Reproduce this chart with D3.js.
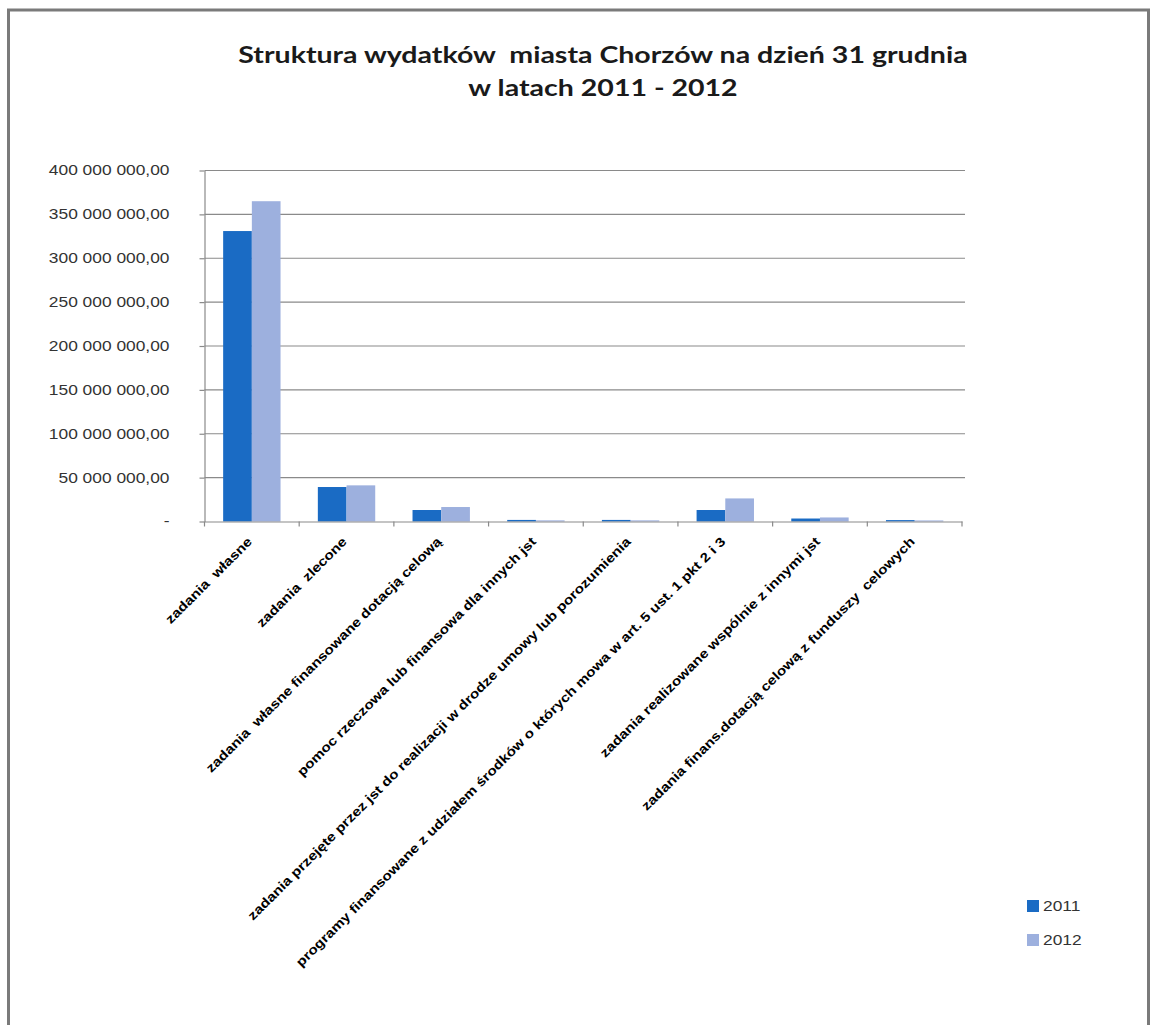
<!DOCTYPE html>
<html>
<head>
<meta charset="utf-8">
<script src="https://cdn.jsdelivr.net/npm/d3@7"></script>
<style>
  html, body { margin: 0; padding: 0; background: #fff; }
  svg { display: block; }
  text { white-space: pre; }
</style>
</head>
<body>
<svg id="chart" width="1153" height="1025"></svg>
<script>
// ---------- DATA ----------
const titleLines = ["Struktura wydatków  miasta Chorzów na dzień 31 grudnia", "w latach 2011 - 2012"];
const categories = [
  "zadania  własne",
  "zadania  zlecone",
  "zadania  własne finansowane dotacją celową",
  "pomoc rzeczowa lub finansowa dla innych jst",
  "zadania przejęte przez jst do realizacji w drodze umowy lub porozumienia",
  "programy finansowane z udziałem środków o których mowa w art. 5 ust. 1 pkt 2 i 3",
  "zadania realizowane wspólnie z innymi jst",
  "zadania finans.dotacją celową z funduszy  celowych"
];
const seriesNames = ["2011", "2012"];
const values2011 = [331000000, 39300000, 13100000, 1800000, 1800000, 13100000, 3400000, 1600000];
const values2012 = [365000000, 41200000, 16500000, 1300000, 1300000, 26300000, 4600000, 1200000];
const yTickValues = [0, 50000000, 100000000, 150000000, 200000000, 250000000, 300000000, 350000000, 400000000];
const yTickLabels = ["-", "50 000 000,00", "100 000 000,00", "150 000 000,00", "200 000 000,00",
                     "250 000 000,00", "300 000 000,00", "350 000 000,00", "400 000 000,00"];

// ---------- STYLE / LAYOUT ----------
const colors = ["#1A6BC4", "#9DB0DE"];
const SX = 1.24; // horizontal stretch of the reference's text
const plot = { left: 204.5, right: 962, top: 170.5, bottom: 521.5 };

const svg = d3.select("#chart");

function stretch(sel, f) {
  sel.each(function () {
    const w = this.getComputedTextLength();
    d3.select(this).attr("textLength", w * f).attr("lengthAdjust", "spacingAndGlyphs");
  });
}

// outer frame
svg.append("rect")
  .attr("x", 8.5).attr("y", 10).attr("width", 1140).attr("height", 1040)
  .attr("fill", "none").attr("stroke", "#7a7a7a").attr("stroke-width", 3);

// title
svg.append("g").selectAll("text").data(titleLines).join("text")
  .attr("x", 603).attr("y", (d, i) => 63 + i * 33)
  .attr("text-anchor", "middle")
  .attr("font-family", "Lato, 'Open Sans', sans-serif")
  .attr("font-weight", "bold")
  .attr("font-size", 23)
  .attr("fill", "#1a1a1a")
  .text(d => d)
  .call(stretch, SX);

// scales
const x0 = d3.scaleBand().domain(categories).range([plot.left, plot.right]).padding(0);
const x1 = d3.scaleBand().domain(seriesNames).range([0, x0.bandwidth()]).paddingInner(0).paddingOuter(0.65);
const y = d3.scaleLinear().domain([0, 400000000]).range([plot.bottom, plot.top]);

// gridlines
svg.append("g").selectAll("line").data(yTickValues.slice(1)).join("line")
  .attr("x1", plot.left).attr("x2", plot.right + 3)
  .attr("y1", d => y(d)).attr("y2", d => y(d))
  .attr("stroke", "#8a8a8a").attr("stroke-width", 1.2);

// bars
const series = [values2011, values2012];
const gBars = svg.append("g");
series.forEach((vals, si) => {
  gBars.append("g").selectAll("rect").data(vals).join("rect")
    .attr("x", (d, i) => x0(categories[i]) + x1(seriesNames[si]))
    .attr("width", x1.bandwidth())
    .attr("y", d => y(d))
    .attr("height", d => y(0) - y(d))
    .attr("fill", colors[si]);
});

// y axis
const yAxis = d3.axisLeft(y).tickValues(yTickValues)
  .tickFormat((d, i) => yTickLabels[i]).tickSizeInner(5).tickSizeOuter(0).tickPadding(30);
const gy = svg.append("g").attr("transform", `translate(${plot.left},0)`).call(yAxis);
gy.select(".domain").attr("stroke", "#8a8a8a").attr("stroke-width", 1.2);
gy.selectAll(".tick line").attr("stroke", "#8a8a8a").attr("stroke-width", 1.2);
gy.selectAll(".tick text")
  .attr("font-family", "'Liberation Sans', Arial, sans-serif")
  .attr("font-size", 14).attr("fill", "#333")
  .call(stretch, SX);

// x axis
const xAxis = d3.axisBottom(x0).tickSize(0).tickFormat("");
const gx = svg.append("g").attr("transform", `translate(0,${plot.bottom})`).call(xAxis);
gx.select(".domain").attr("stroke", "#8a8a8a").attr("stroke-width", 1.2);
// tick marks at category boundaries
const boundaries = categories.map(c => x0(c)).concat([plot.right]);
gx.append("g").selectAll("line").data(boundaries).join("line")
  .attr("x1", d => d).attr("x2", d => d).attr("y1", 0).attr("y2", 5)
  .attr("stroke", "#8a8a8a").attr("stroke-width", 1.2);

// x labels rotated
svg.append("g").selectAll("text").data(categories).join("text")
  .attr("transform", d => `translate(${x0(d) + x0.bandwidth() / 2 + 1},${plot.bottom + 21}) rotate(-45)`)
  .attr("text-anchor", "end")
  .attr("font-family", "'Liberation Sans', Arial, sans-serif")
  .attr("font-weight", "bold")
  .attr("font-size", 13)
  .attr("fill", "#000")
  .text(d => d)
  .call(stretch, 1.18);

// legend
const lg = svg.append("g");
seriesNames.forEach((s, i) => {
  lg.append("rect").attr("x", 1027).attr("y", 900 + i * 34).attr("width", 12).attr("height", 12).attr("fill", colors[i]);
  lg.append("text").attr("x", 1043).attr("y", 911 + i * 34)
    .attr("font-family", "'Liberation Sans', Arial, sans-serif")
    .attr("font-size", 14).attr("fill", "#333")
    .text(s).call(stretch, SX);
});
</script>
</body>
</html>
